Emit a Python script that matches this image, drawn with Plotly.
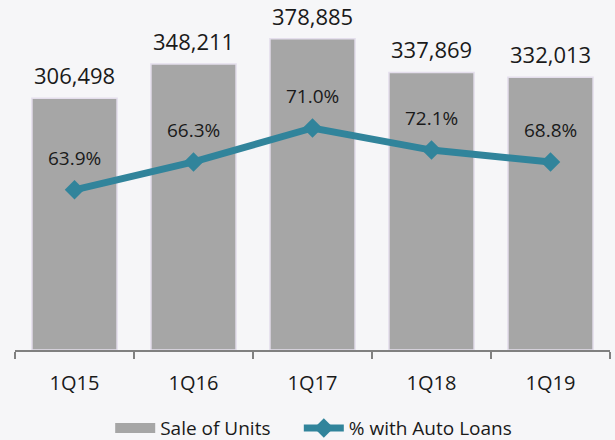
import plotly.graph_objects as go

quarters = ["1Q15", "1Q16", "1Q17", "1Q18", "1Q19"]
units_sold = [306498, 348211, 378885, 337869, 332013]
# Line as drawn in the picture (secondary, hidden 0-100 scale)
loan_line_pos = [47.1, 55.3, 65.3, 58.8, 55.3]
loan_labels = ["63.9%", "66.3%", "71.0%", "72.1%", "68.8%"]

FONT = "Open Sans"
BAR_COLOR = "#A6A6A6"
LINE_COLOR = "#31849B"
TXT = "#1a1a1a"

fig = go.Figure()
fig.add_trace(go.Bar(
    x=quarters, y=units_sold, name="Sale of Units",
    marker=dict(color=BAR_COLOR, line=dict(color="#E4DEEC", width=1.5)),
    hoverinfo="skip", showlegend=False,
))
# legend-only entry giving the wide rectangular swatch of the bar series
fig.add_trace(go.Scatter(
    x=[None], y=[None], name="Sale of Units", mode="lines",
    line=dict(color=BAR_COLOR, width=14), hoverinfo="skip", legend="legend",
))
fig.add_trace(go.Scatter(
    x=quarters, y=loan_line_pos, name="% with Auto Loans", yaxis="y2",
    mode="lines+markers",
    line=dict(color=LINE_COLOR, width=7),
    marker=dict(symbol="diamond", size=15, color=LINE_COLOR),
    hoverinfo="skip", legend="legend2",
))

annotations = []
for q, v in zip(quarters, units_sold):
    annotations.append(dict(x=q, y=v, xref="x", yref="y", text=f"{v:,}",
                            showarrow=False, yanchor="middle", yshift=23,
                            font=dict(family=FONT, size=22, color=TXT)))
for q, v, t in zip(quarters, loan_line_pos, loan_labels):
    annotations.append(dict(x=q, y=v, xref="x", yref="y2", text=t,
                            showarrow=False, yanchor="middle", yshift=32,
                            font=dict(family=FONT, size=19, color=TXT)))

legend_common = dict(orientation="h", y=-0.23, yanchor="middle", xanchor="left",
                     font=dict(family=FONT, size=19, color=TXT),
                     bgcolor="rgba(0,0,0,0)", itemwidth=40, tracegroupgap=0)

fig.update_layout(
    width=615, height=440,
    margin=dict(l=15, r=5, t=10, b=90, autoexpand=False),
    paper_bgcolor="#F6F6F8", plot_bgcolor="rgba(0,0,0,0)",
    bargap=0.285,
    showlegend=True,
    legend=dict(x=0.160, **legend_common),
    legend2=dict(x=0.477, **legend_common),
    xaxis=dict(type="category", showline=True, linecolor="#808080", linewidth=1.5,
               ticks="outside", tickson="boundaries", ticklen=7, tickcolor="#808080",
               tickwidth=1.5, ticklabelstandoff=14, automargin=False,
               tickfont=dict(family=FONT, size=20, color=TXT), showgrid=False),
    yaxis=dict(range=[0, 413800], visible=False, showgrid=False, zeroline=False,
               automargin=False),
    yaxis2=dict(range=[0, 100], overlaying="y", side="right", visible=False,
                showgrid=False, zeroline=False, automargin=False),
    annotations=annotations,
    font=dict(family=FONT),
)

fig.write_html("out.html", config={"displayModeBar": False},
               post_script="document.body.style.margin='0';document.body.style.background='#F6F6F8';")
